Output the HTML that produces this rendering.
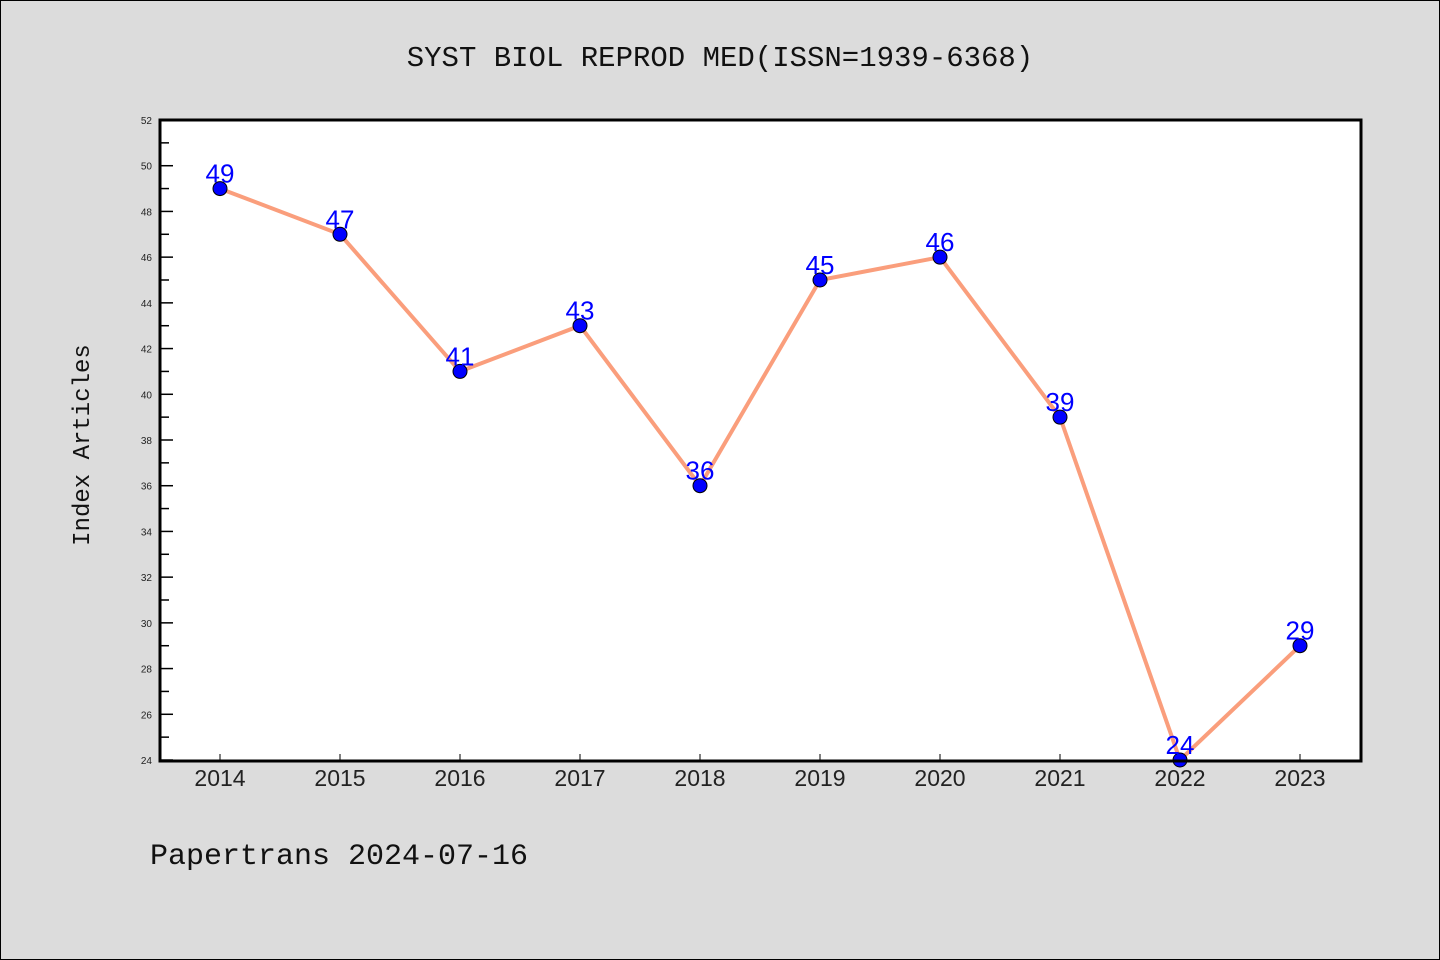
<!DOCTYPE html>
<html><head><meta charset="utf-8"><style>
body{margin:0;background:#dcdcdc;}
svg{display:block;font-family:"Liberation Sans","WenQuanYi Zen Hei",sans-serif;}
</style></head><body>
<svg id="c" width="1440" height="960">
<rect x="0.5" y="0.5" width="1439" height="959" fill="#dcdcdc" stroke="#000"/>
<text x="720" y="66" text-anchor="middle" font-size="29" fill="#111" font-family="'WenQuanYi Zen Hei','Liberation Mono',monospace">SYST BIOL REPROD MED(ISSN=1939-6368)</text>
<rect x="160" y="120" width="1201" height="641" fill="#fff"/>
<text transform="translate(89,445) rotate(-90)" text-anchor="middle" font-size="24" fill="#111" font-family="'WenQuanYi Zen Hei','Liberation Mono',monospace">Index Articles</text>
<text x="150" y="864" font-size="30" fill="#111" font-family="'WenQuanYi Zen Hei','Liberation Mono',monospace">Papertrans 2024-07-16</text>
<g id="g"></g>
<rect x="160" y="120" width="1201" height="641" fill="none" stroke="#000" stroke-width="3"/>
</svg>
<script>
const years=["2014","2015","2016","2017","2018","2019","2020","2021","2022","2023"];
const values=[49,47,41,43,36,45,46,39,24,29];
const yTicks=[24,26,28,30,32,34,36,38,40,42,44,46,48,50,52];
const yMin=24,yMax=52;
const NS="http://www.w3.org/2000/svg";
const g=document.getElementById('g');
function X(i){return 220+i*120;}
function Y(v){return 760-(v-yMin)*(640/(yMax-yMin));}
function el(t,a){const e=document.createElementNS(NS,t);for(const k in a)e.setAttribute(k,a[k]);g.appendChild(e);return e;}
yTicks.forEach(v=>{
  const t=el('line',{x1:160,x2:173,y1:Y(v),y2:Y(v),stroke:'#000','stroke-width':1.5});
  
  
  if(v<yMax){const m=el('line',{x1:160,x2:169,y1:Y(v+1),y2:Y(v+1),stroke:'#000','stroke-width':1.5});
  
  }
  const l=el('text',{x:152,y:Y(v)+4,'text-anchor':'end','font-size':10,fill:'#222'});
  l.textContent=v;
  
  
});
years.forEach((yr,i)=>{
  const t=el('line',{x1:X(i),x2:X(i),y1:760,y2:754,stroke:'#000','stroke-width':1});
  
  
  const l=el('text',{x:X(i),y:786,'text-anchor':'middle','font-size':23,fill:'#222'});
  l.textContent=yr;
  
  
});
const line=el('polyline',{points:values.map((v,i)=>X(i)+','+Y(v)).join(' '),fill:'none',stroke:'#fa9e7c','stroke-width':4});


values.forEach((v,i)=>{
  const c=el('circle',{cx:X(i),cy:Y(v),r:7,fill:'#0000ff',stroke:'#000','stroke-width':1});
  
  
  const t=el('text',{x:X(i),y:Y(v)-6,'text-anchor':'middle','font-size':26,fill:'#0000ff'});
  t.textContent=v;
  
  
});
</script>
</body></html>
